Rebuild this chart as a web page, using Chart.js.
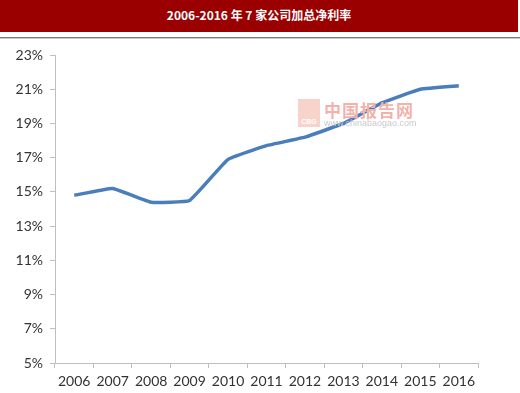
<!DOCTYPE html>
<html>
<head>
<meta charset="utf-8">
<script src="https://cdn.jsdelivr.net/npm/chart.js@4"></script>
<style>
  html,body{margin:0;padding:0;background:#fff;}
  #wrap{position:relative;width:520px;height:393px;overflow:hidden;}
  #title{position:absolute;left:0;top:0;width:518px;height:32px;background:#9b0000;color:#fff;
    font:bold 12px "Noto Sans CJK SC",sans-serif;text-align:center;line-height:30px;}
  #rule{position:absolute;left:0;top:37px;width:520px;height:1px;background:#7a7a7a;border-bottom:1px solid #c8c8c8;}
  #wm{position:absolute;left:298px;top:99px;pointer-events:none;}
  #wm .logo{position:absolute;left:0;top:0;width:22px;height:28px;background:#f6c8c0;opacity:.8;
    color:#fff;font:bold 7px Arial,sans-serif;text-align:center;line-height:46px;}
  #wm .cn{position:absolute;left:26px;top:-2px;font:bold 17px "Noto Sans CJK SC",sans-serif;color:#f3b1aa;white-space:nowrap;letter-spacing:1px;}
  #wm .url{position:absolute;left:26px;top:19px;font:9px "Liberation Sans",sans-serif;color:#c9c9c9;white-space:nowrap;}
  canvas{position:absolute;left:0;top:0;}
</style>
</head>
<body>
<div id="wrap">
  <canvas id="chart" width="520" height="393"></canvas>
  <div id="title">2006-2016 年 7 家公司加总净利率</div>
  <div id="rule"></div>
  <div id="wm"><div class="logo">CBG</div><div class="cn">中国报告网</div><div class="url">www.chinabaogao.com</div></div>
</div>
<script>
const years = ['2006','2007','2008','2009','2010','2011','2012','2013','2014','2015','2016'];
const netMargin = [14.8, 15.2, 14.4, 14.5, 16.9, 17.7, 18.2, 19.0, 20.2, 21.0, 21.2];
const yMin = 5, yMax = 23, yStep = 2;

const axisGray = '#bfbfbf';
const tickFont = {family:'Lato, "Open Sans", sans-serif', size:14};

new Chart(document.getElementById('chart'), {
  type:'line',
  data:{
    labels:years,
    datasets:[{
      data:netMargin,
      borderColor:'#4a7ebb',
      borderWidth:3.5,
      pointRadius:0,
      tension:0.1,
      fill:false
    }]
  },
  options:{
    responsive:false,
    animation:false,
    layout:{padding:{left:0, top:55, right:42, bottom:0}},
    plugins:{legend:{display:false}, tooltip:{enabled:false}},
    scales:{
      x:{
        offset:true,
        grid:{offset:true, drawOnChartArea:false, drawTicks:true, tickLength:5, color:axisGray},
        border:{color:axisGray, width:1},
        ticks:{color:'#333', font:tickFont, padding:5, maxRotation:0, autoSkip:false},
        afterFit:s=>{ s.height = 30; }
      },
      y:{
        min:yMin, max:yMax,
        grid:{drawOnChartArea:false, drawTicks:true, tickLength:5, color:axisGray},
        border:{color:axisGray, width:1},
        ticks:{stepSize:yStep, color:'#333', font:tickFont, padding:7, callback:v=>v+'%'},
        afterFit:s=>{ s.width = 55; }
      }
    }
  }
});
</script>
</body>
</html>
